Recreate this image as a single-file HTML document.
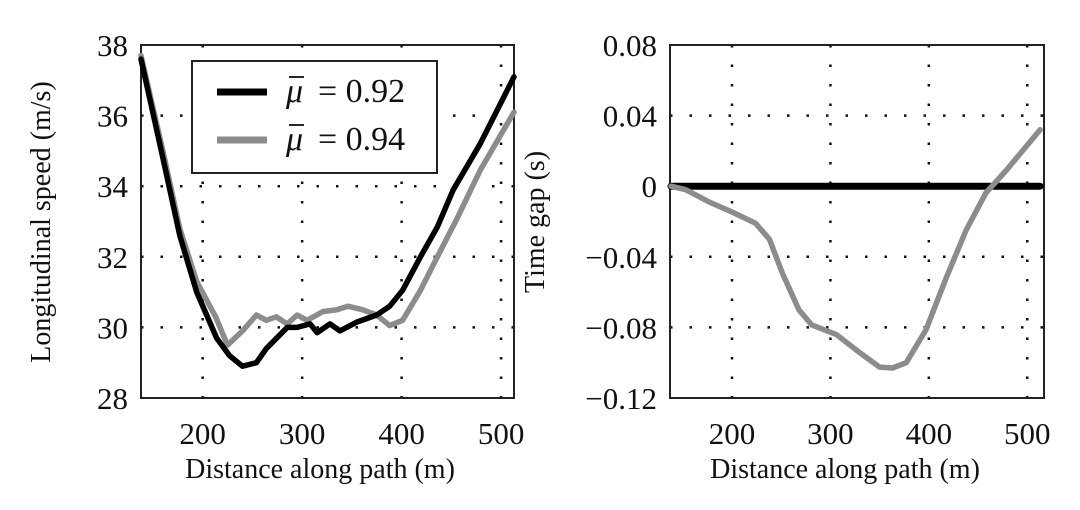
<!DOCTYPE html>
<html><head><meta charset="utf-8"><style>
body{margin:0;background:#fff;}
text{font-family:"Liberation Serif",serif;fill:#111;}
</style></head><body>
<svg id="c" width="1080" height="505" viewBox="0 0 1080 505" xmlns="http://www.w3.org/2000/svg"></svg>
<script>
const xTicks=[200,300,400,500];
const speedTicks=[28,30,32,34,36,38];
const gapTicks=[-0.12,-0.08,-0.04,0,0.04,0.08];
const gapTickLabels=["\u22120.12","\u22120.08","\u22120.04","0","0.04","0.08"];
const blackX=[138,160,177,194,214,227,240,254,264,285,295,308,315,328,338,355,375,388,401,419,436,452,479,513];
const blackY=[37.6,34.8,32.6,31.0,29.7,29.2,28.9,29.0,29.4,30.0,30.0,30.1,29.85,30.1,29.9,30.15,30.35,30.6,31.05,32.0,32.85,33.9,35.2,37.1];
const grayX=[138,160,177,194,213,225,240,254,264,274,285,295,305,321,335,346,361,375,388,401,419,436,456,479,513];
const grayY=[37.7,35.0,32.8,31.3,30.3,29.5,29.9,30.35,30.2,30.3,30.1,30.35,30.2,30.45,30.5,30.6,30.5,30.35,30.05,30.2,31.05,32.0,33.1,34.45,36.1];
const gapX=[138,153,177,200,224,238,251,268,281,306,329,350,363,377,397,418,438,458,479,513];
const gapY=[0,-0.002,-0.009,-0.0146,-0.021,-0.030,-0.049,-0.070,-0.0786,-0.084,-0.094,-0.1025,-0.103,-0.100,-0.0815,-0.0514,-0.0248,-0.0038,0.0092,0.032];
const zeroX=[138,513];
const zeroY=[0,0];

const svg=document.getElementById('c');
const NS="http://www.w3.org/2000/svg";
function mk(tag,attrs,parent){const e=document.createElementNS(NS,tag);for(const k in attrs)e.setAttribute(k,attrs[k]);(parent||svg).appendChild(e);return e;}

function panel(L,R,T,B,xmin,xmax,ymin,ymax,yt,ytl,name){
  const g=mk('g',{});
  
  
  const sx=v=>L+(v-xmin)/(xmax-xmin)*(R-L);
  const sy=v=>B-(v-ymin)/(ymax-ymin)*(B-T);
  xTicks.forEach(t=>{
    const l=mk('line',{x1:sx(t),x2:sx(t),y1:T,y2:B,stroke:'#111','stroke-width':2.5,'stroke-dasharray':'2.5,17'},g);
    
    
    const tx=mk('text',{x:sx(t),y:B+46,'text-anchor':'middle','font-size':31},g);
    tx.textContent=t;
    
    
  });
  yt.forEach((t,i)=>{
    const y=sy(t);
    if(i>0&&i<yt.length-1){
      const l=mk('line',{x1:L,x2:R,y1:y,y2:y,stroke:'#111','stroke-width':2.5,'stroke-dasharray':'2.5,17'},g);
      
      
    }
    const tx=mk('text',{x:L-13,y:y+11,'text-anchor':'end','font-size':31},g);
    tx.textContent=ytl[i];
    
    
  });
  const f=mk('rect',{x:L,y:T,width:R-L,height:B-T,fill:'none',stroke:'#222','stroke-width':2},g);
  
  
  return {g,sx,sy};
}
function series(p,xs,ys,color,w,name){
  const d=xs.map((x,i)=>(i?'L':'M')+p.sx(x).toFixed(1)+','+p.sy(ys[i]).toFixed(1)).join(' ');
  const e=mk('path',{d:d,fill:'none',stroke:color,'stroke-width':w,'stroke-linejoin':'round','stroke-linecap':'round'},p.g);
  
  
}
const p1=panel(141,514,45,398,138,513,28,38,speedTicks,speedTicks.map(String),'speed-panel');
series(p1,grayX,grayY,'#8c8c8c',5.5,'series-mu-0.94');
series(p1,blackX,blackY,'#000',5.5,'series-mu-0.92');
const p2=panel(670,1044,45,398,137,517,-0.12,0.08,gapTicks,gapTickLabels,'time-gap-panel');
series(p2,zeroX,zeroY,'#000',7,'time-gap-zero-line');
series(p2,gapX,gapY,'#8c8c8c',5.5,'time-gap-series');

// legend
const lg=mk('g',{});


mk('rect',{x:192,y:61,width:245,height:112,fill:'#fff',stroke:'#222','stroke-width':2},lg);
const e1=mk('line',{x1:217,x2:267,y1:92,y2:92,stroke:'#000','stroke-width':7},lg);


const e2=mk('line',{x1:217,x2:267,y1:140,y2:140,stroke:'#8c8c8c','stroke-width':7},lg);


[[102,'0.92'],[150,'0.94']].forEach(([y,v])=>{
  const m=mk('text',{x:286,y:y,'font-size':34,'font-style':'italic'},lg);
  m.textContent='μ';
  
  
  mk('line',{x1:289,x2:304,y1:y-25,y2:y-25,stroke:'#111','stroke-width':1.8},lg);
  const t=mk('text',{x:318,y:y,'font-size':34},lg);
  t.textContent='= '+v;
  
  
});

function label(txt,x,y,rot,name){
  const t=mk('text',{x:x,y:y,'text-anchor':'middle','font-size':28,transform:rot?`rotate(-90 ${x} ${y})`:''});
  t.textContent=txt;
  
  
}
label('Distance along path (m)',320,478,false,'x-axis-title-left');
label('Distance along path (m)',845,478,false,'x-axis-title-right');
label('Longitudinal speed (m/s)',50,222,true,'y-axis-title-left');
label('Time gap (s)',544,222,true,'y-axis-title-right');
</script>
</body></html>
